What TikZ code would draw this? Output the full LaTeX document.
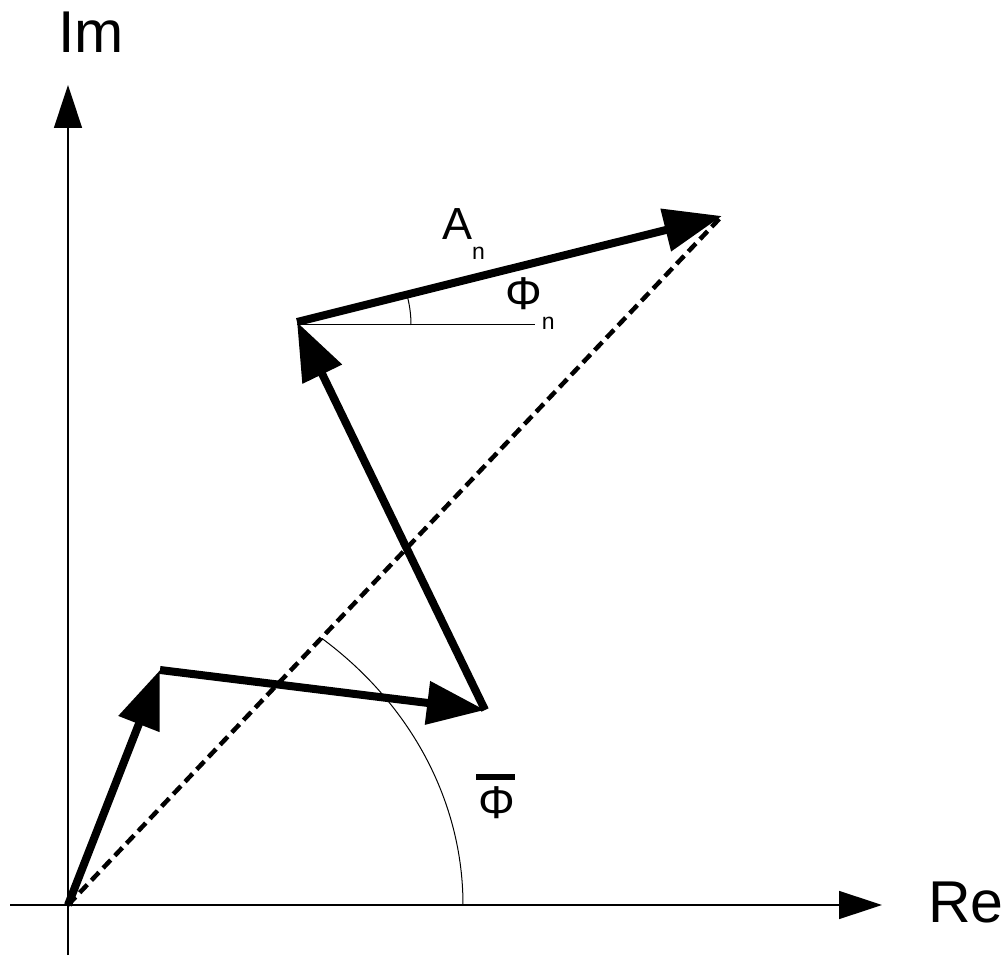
\documentclass[tikz,border=0pt]{standalone}
\usepackage{fontspec}
\setmainfont{Liberation Sans}
\usetikzlibrary{arrows.meta}
\begin{document}
\begin{tikzpicture}[x=1pt,y=-1pt,
  axis/.style={line width=1.5pt, -{Triangle[length=43pt,width=28pt]}},
  vec/.style={line width=8pt, -{Triangle[length=58pt,width=42pt]}, line join=miter},
  dashvec/.style={line width=4.5pt, dash pattern=on 11pt off 6pt},
  thinline/.style={line width=1pt},
  lbl/.style={inner sep=0pt, anchor=base west}]
\useasboundingbox (0,0) rectangle (1007,957);
\coordinate (O) at (68,905);
\coordinate (P1) at (160,670);
\coordinate (P2) at (485,710);
\coordinate (P3) at (297,322);
\coordinate (P4) at (722,216);
\coordinate (ReL) at (10,905);
\coordinate (ReR) at (882,905);
\coordinate (ImB) at (68,955);
\coordinate (ImT) at (68,85);
\coordinate (H) at (535,325);
\coordinate (P3h) at (297,325);
% axes
\draw[axis] (ReL) -- (ReR);
\draw[axis] (ImB) -- (ImT);
\node[lbl] (im) at (58,53) {\fontsize{59}{59}\selectfont Im};
\node[lbl] (re) at (928,922) {\fontsize{59}{59}\selectfont Re};
% resultant
\draw[dashvec] (O) -- (P4);
% reference line and angles
\draw[thinline] (P3h) -- (H);
\draw[thinline] (411,325) arc[start angle=0, end angle=-14, radius=114];
\draw[thinline] (463,905) arc[start angle=0, end angle=-50, x radius=395, y radius=348];
% vectors
\draw[vec] (O) -- (P1);
\draw[vec] (P1) -- (P2);
\draw[vec] (P2) -- (P3);
\draw[vec] (P3) -- (P4);
% labels
\node[lbl] (an) at (442,240) {\fontsize{45}{45}\selectfont A\raisebox{-20pt}{\fontsize{23}{23}\selectfont n}};
\node[lbl] (phin) at (505,310) {\fontsize{46}{46}\selectfont Φ\raisebox{-20pt}{\fontsize{23}{23}\selectfont n}};
\node[lbl] (phibar) at (476,818) {\fontsize{46}{46}\selectfont\rlap{\rule[38pt]{39pt}{6pt}}\kern2pt Φ};
\end{tikzpicture}
\end{document}
